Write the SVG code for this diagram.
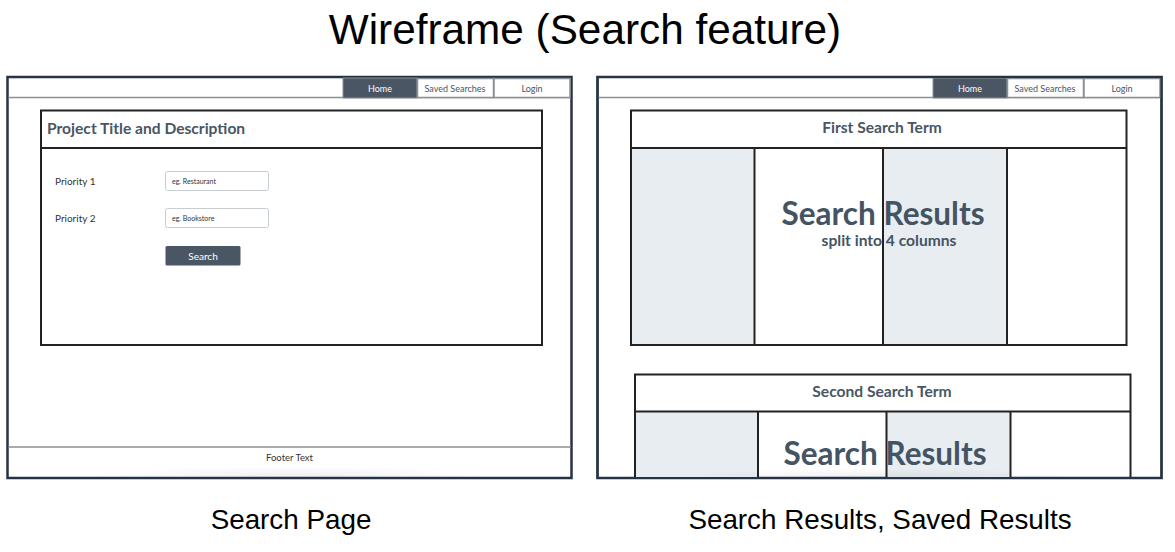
<svg xmlns="http://www.w3.org/2000/svg" width="1175" height="552" viewBox="0 0 1175 552">
  <defs>
    <style>
      .heading { font-family: "Liberation Sans", Arial, sans-serif; fill: #000; text-anchor: middle; }
      .ui { font-family: Lato, "Open Sans", sans-serif; }
      .frame { fill: #fff; stroke: #263344; stroke-width: 2.5; }
      .rule { stroke: #8a8f95; stroke-width: 1.5; }
      .box { fill: none; stroke: #222; stroke-width: 2; }
      .shade { fill: #e8edf1; }
      .col { stroke: #222; stroke-width: 2; }
      .nav-on { fill: #4a5663; stroke: #8a8f95; stroke-width: 1; }
      .nav-off { fill: #fff; stroke: #8a8f95; stroke-width: 1.5; }
      .nav-text { font-size: 9px; text-anchor: middle; fill: #4b5561; }
      .nav-text.on { fill: #fff; }
      .label { font-size: 10px; fill: #333; }
      .hint { font-size: 7px; fill: #333; }
      .input { fill: #fff; stroke: #c8cdd2; stroke-width: 1; }
      .title { font-weight: bold; fill: #4a5663; }
      .term { font-size: 15.6px; font-weight: bold; text-anchor: middle; fill: #4a5663; }
      .big { font-weight: bold; fill: #455463; text-anchor: middle; }
    </style>
    <radialGradient id="shadow" cx="0.5" cy="1" r="0.5">
      <stop offset="0" stop-color="#000" stop-opacity="0.07"/>
      <stop offset="1" stop-color="#000" stop-opacity="0"/>
    </radialGradient>
    <clipPath id="rightClip">
      <rect x="598" y="77" width="563" height="401"/>
    </clipPath>
  </defs>

  <rect width="1175" height="552" fill="#fff"/>

  <text class="heading" x="585" y="44" font-size="42.3">Wireframe (Search feature)</text>

  <!-- Search page mock-up -->
  <g id="search-page">
    <rect class="frame" x="7.5" y="77" width="564" height="401"/>
    <line class="rule" x1="8.5" y1="97.5" x2="570.5" y2="97.5"/>
    <g id="nav-left">
      <rect class="nav-on" x="343" y="78" width="74" height="20"/>
      <text class="ui nav-text on" x="380" y="91.5">Home</text>
      <rect class="nav-off" x="417.5" y="78.5" width="76" height="19"/>
      <text class="ui nav-text" x="455" y="91.5">Saved Searches</text>
      <rect class="nav-off" x="494" y="78.5" width="76" height="19"/>
      <text class="ui nav-text" x="532" y="91.5">Login</text>
    </g>
    <g id="project-box">
      <rect class="box" x="41" y="110.5" width="501" height="234.5"/>
      <line class="col" x1="41" y1="148" x2="542" y2="148"/>
      <text class="ui title" x="47" y="134" font-size="15.6">Project Title and Description</text>
    </g>
    <g id="priority-1">
      <text class="ui label" x="55" y="185">Priority 1</text>
      <rect class="input" x="165.5" y="171.5" width="103" height="19" rx="2"/>
      <text class="ui hint" x="172" y="183.5">eg. Restaurant</text>
    </g>
    <g id="priority-2">
      <text class="ui label" x="55" y="222">Priority 2</text>
      <rect class="input" x="165.5" y="208.5" width="103" height="19" rx="2"/>
      <text class="ui hint" x="172" y="220.5">eg. Bookstore</text>
    </g>
    <g id="search-button">
      <rect x="165.5" y="246" width="75" height="19.5" rx="1.5" fill="#4a5663"/>
      <text class="ui" x="203" y="260" font-size="10" text-anchor="middle" fill="#fff">Search</text>
    </g>
    <g id="footer">
      <line class="rule" x1="8.5" y1="447" x2="570.5" y2="447"/>
      <rect x="90" y="455" width="400" height="22" fill="url(#shadow)"/>
      <text class="ui" x="289.5" y="461" font-size="9.5" text-anchor="middle" fill="#333">Footer Text</text>
    </g>
  </g>

  <!-- Search results mock-up -->
  <g id="results-page">
    <rect class="frame" x="597.5" y="77" width="564" height="401" stroke-width="2"/>
    <line class="rule" x1="598.5" y1="97.5" x2="1160.5" y2="97.5"/>
    <g id="nav-right">
      <rect class="nav-on" x="933" y="78" width="74" height="20"/>
      <text class="ui nav-text on" x="970" y="91.5">Home</text>
      <rect class="nav-off" x="1007.5" y="78.5" width="76" height="19"/>
      <text class="ui nav-text" x="1045" y="91.5">Saved Searches</text>
      <rect class="nav-off" x="1084" y="78.5" width="76" height="19"/>
      <text class="ui nav-text" x="1122" y="91.5">Login</text>
    </g>
    <g id="first-term">
      <rect class="shade" x="631" y="148" width="123" height="197"/>
      <rect class="shade" x="883" y="148" width="124" height="197"/>
      <rect class="box" x="631" y="110.5" width="495.5" height="234.5"/>
      <line class="col" x1="631" y1="148" x2="1126.5" y2="148"/>
      <line class="col" x1="754.5" y1="148" x2="754.5" y2="345"/>
      <line class="col" x1="883" y1="148" x2="883" y2="345"/>
      <line class="col" x1="1007" y1="148" x2="1007" y2="345"/>
      <text class="ui term" x="882" y="133">First Search Term</text>
      <text class="ui big" x="883" y="225" font-size="31.5">Search Results</text>
      <text class="ui big" x="889" y="246" font-size="15.6">split into 4 columns</text>
    </g>
    <g id="second-term" clip-path="url(#rightClip)">
      <rect class="shade" x="635" y="411" width="123" height="80"/>
      <rect class="shade" x="886.5" y="411" width="124" height="80"/>
      <rect class="box" x="635" y="374.5" width="495.5" height="130"/>
      <line class="col" x1="635" y1="411.5" x2="1130.5" y2="411.5"/>
      <line class="col" x1="758" y1="411.5" x2="758" y2="490"/>
      <line class="col" x1="886.5" y1="411.5" x2="886.5" y2="490"/>
      <line class="col" x1="1010.5" y1="411.5" x2="1010.5" y2="490"/>
      <text class="ui term" x="882" y="397">Second Search Term</text>
      <text class="ui big" x="885" y="465" font-size="31.5">Search Results</text>
      <rect x="680" y="458" width="400" height="20" fill="url(#shadow)"/>
    </g>
    <rect x="597.5" y="77" width="564" height="401" fill="none" stroke="#263344" stroke-width="2"/>
  </g>

  <text class="heading" x="291" y="529" font-size="27.8">Search Page</text>
  <text class="heading" x="880" y="529" font-size="27.8">Search Results, Saved Results</text>
</svg>
